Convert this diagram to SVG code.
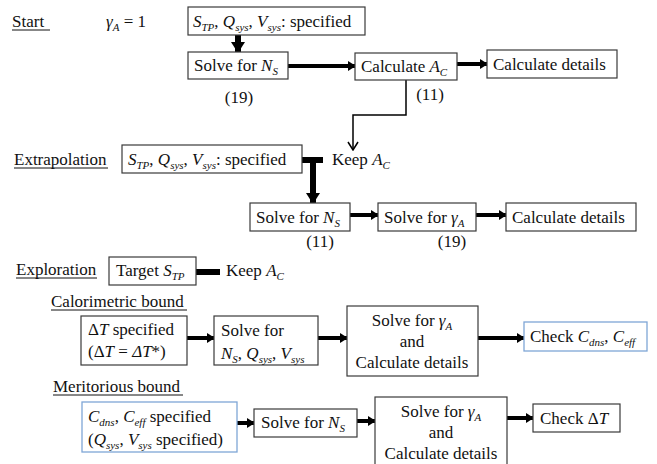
<svg xmlns="http://www.w3.org/2000/svg" width="657" height="464" viewBox="0 0 657 464" font-family="Liberation Serif, DejaVu Serif, serif" font-size="17">
<style>
text{font-family:'Liberation Serif','DejaVu Serif',serif;font-size:17px;fill:#111}
.i{font-style:italic}
.s{font-size:11px;font-style:italic}
.box{fill:#fff;stroke:#3a3a3a;stroke-width:1.2}
.blue{fill:#fff;stroke:#7fa6d6;stroke-width:1.3}
.thick{stroke:#000;stroke-width:4;fill:none}
.heavy{stroke:#000;stroke-width:6;fill:none}
.thin{stroke:#000;stroke-width:1.5;fill:none}
.ul{stroke:#111;stroke-width:1}
.c{text-anchor:middle}
</style>
<defs>
<marker id="ah" markerUnits="userSpaceOnUse" markerWidth="8" markerHeight="10" refX="7" refY="5" orient="auto"><path d="M0,0 L8,5 L0,10 z" fill="#000"/></marker>
<marker id="ahb" markerUnits="userSpaceOnUse" markerWidth="12" markerHeight="14" refX="10" refY="7" orient="auto"><path d="M0,0 L11,7 L0,14 z" fill="#000"/></marker>
<marker id="ao" markerUnits="userSpaceOnUse" markerWidth="10" markerHeight="12" refX="9" refY="6" orient="auto"><path d="M1,1 L9,6 L1,11" fill="none" stroke="#000" stroke-width="1.5"/></marker>
</defs>

<g id="labels">
<text x="12" y="27">Start</text><line class="ul" x1="12" y1="30" x2="50" y2="30"/>
<text x="106" y="27"><tspan class="i">γ</tspan><tspan class="s" dy="4">A</tspan><tspan dy="-4"> = 1</tspan></text>
<text x="14" y="165">Extrapolation</text><line class="ul" x1="14" y1="168" x2="108" y2="168"/>
<text x="16" y="275">Exploration</text><line class="ul" x1="16" y1="278" x2="97" y2="278"/>
<text x="51" y="307">Calorimetric bound</text><line class="ul" x1="51" y1="310" x2="187" y2="310"/>
<text x="53" y="392">Meritorious bound</text><line class="ul" x1="53" y1="395" x2="183" y2="395"/>
<text class="c" x="239" y="103">(19)</text>
<text class="c" x="430" y="100">(11)</text>
<text class="c" x="320" y="247">(11)</text>
<text class="c" x="452" y="247">(19)</text>
<text x="332" y="165">Keep <tspan class="i">A</tspan><tspan class="s" dy="4">C</tspan></text>
<text x="226" y="276">Keep <tspan class="i">A</tspan><tspan class="s" dy="4">C</tspan></text>
</g>

<g id="connectors">
<line class="heavy" x1="238" y1="35" x2="238" y2="52" marker-end="url(#ahb)"/>
<line class="thick" x1="288" y1="66" x2="355" y2="66" marker-end="url(#ah)"/>
<line class="thick" x1="457" y1="64" x2="487" y2="64" marker-end="url(#ah)"/>
<polyline class="thin" points="406,80 406,115 353,115 353,150" marker-end="url(#ao)"/>
<line class="heavy" x1="302" y1="160" x2="323" y2="160"/>
<line class="heavy" x1="313" y1="160" x2="313" y2="203" marker-end="url(#ahb)"/>
<line class="thick" x1="350" y1="215" x2="378" y2="215" marker-end="url(#ah)"/>
<line class="thick" x1="476" y1="215" x2="506" y2="215" marker-end="url(#ah)"/>
<line class="heavy" x1="196" y1="272" x2="220" y2="272"/>
<line class="thick" x1="187" y1="338" x2="214" y2="338" marker-end="url(#ah)"/>
<line class="thick" x1="318" y1="338" x2="347" y2="338" marker-end="url(#ah)"/>
<line class="thick" x1="478" y1="338" x2="524" y2="338" marker-end="url(#ah)"/>
<line class="thick" x1="237" y1="423" x2="254" y2="423" marker-end="url(#ah)"/>
<line class="thick" x1="357" y1="421" x2="375" y2="421" marker-end="url(#ah)"/>
<line class="thick" x1="507" y1="418" x2="533" y2="418" marker-end="url(#ah)"/>
</g>

<g id="start-spec"><rect class="box" x="188" y="7" width="177" height="28"/>
<text x="193" y="27"><tspan class="i">S</tspan><tspan class="s" dy="4">TP</tspan><tspan dy="-4">, </tspan><tspan class="i">Q</tspan><tspan class="s" dy="4">sys</tspan><tspan dy="-4">, </tspan><tspan class="i">V</tspan><tspan class="s" dy="4">sys</tspan><tspan dy="-4">: specified</tspan></text></g>

<g id="start-solve-ns"><rect class="box" x="188" y="52" width="100" height="27"/>
<text x="194" y="71">Solve for <tspan class="i">N</tspan><tspan class="s" dy="4">S</tspan></text></g>

<g id="start-calc-ac"><rect class="box" x="355" y="53" width="102" height="27"/>
<text x="361" y="72">Calculate <tspan class="i">A</tspan><tspan class="s" dy="4">C</tspan></text></g>

<g id="start-details"><rect class="box" x="487" y="50" width="130" height="28"/>
<text x="493" y="70">Calculate details</text></g>

<g id="extra-spec"><rect class="box" x="122" y="145" width="180" height="28"/>
<text x="128" y="165"><tspan class="i">S</tspan><tspan class="s" dy="4">TP</tspan><tspan dy="-4">, </tspan><tspan class="i">Q</tspan><tspan class="s" dy="4">sys</tspan><tspan dy="-4">, </tspan><tspan class="i">V</tspan><tspan class="s" dy="4">sys</tspan><tspan dy="-4">: specified</tspan></text></g>

<g id="extra-solve-ns"><rect class="box" x="250" y="203" width="100" height="28"/>
<text x="256" y="223">Solve for <tspan class="i">N</tspan><tspan class="s" dy="4">S</tspan></text></g>

<g id="extra-solve-gamma"><rect class="box" x="378" y="203" width="98" height="28"/>
<text x="384" y="223">Solve for <tspan class="i">γ</tspan><tspan class="s" dy="4">A</tspan></text></g>

<g id="extra-details"><rect class="box" x="506" y="203" width="130" height="28"/>
<text x="512" y="223">Calculate details</text></g>

<g id="explore-target"><rect class="box" x="109" y="257" width="87" height="28"/>
<text x="116" y="276">Target <tspan class="i">S</tspan><tspan class="s" dy="4">TP</tspan></text></g>

<g id="cal-spec"><rect class="box" x="81" y="316" width="106" height="49"/>
<text x="88" y="335">Δ<tspan class="i">T</tspan> specified</text>
<text x="88" y="357">(Δ<tspan class="i">T</tspan> = <tspan class="i">ΔT</tspan>*)</text></g>

<g id="cal-solve"><rect class="box" x="214" y="316" width="104" height="49"/>
<text x="221" y="336">Solve for</text>
<text x="221" y="359"><tspan class="i">N</tspan><tspan class="s" dy="4">S</tspan><tspan dy="-4">, </tspan><tspan class="i">Q</tspan><tspan class="s" dy="4">sys</tspan><tspan dy="-4">, </tspan><tspan class="i">V</tspan><tspan class="s" dy="4">sys</tspan></text></g>

<g id="cal-gamma"><rect class="box" x="347" y="306" width="131" height="70"/>
<text class="c" x="412" y="326">Solve for <tspan class="i">γ</tspan><tspan class="s" dy="4">A</tspan></text>
<text class="c" x="412" y="347">and</text>
<text class="c" x="412" y="368">Calculate details</text></g>

<g id="cal-check"><rect class="blue" x="524" y="322" width="123" height="29"/>
<text x="530" y="342">Check <tspan class="i">C</tspan><tspan class="s" dy="4">dns</tspan><tspan dy="-4">, </tspan><tspan class="i">C</tspan><tspan class="s" dy="4">eff</tspan></text></g>

<g id="mer-spec"><rect class="blue" x="82" y="402" width="155" height="50"/>
<text x="88" y="422"><tspan class="i">C</tspan><tspan class="s" dy="4">dns</tspan><tspan dy="-4">, </tspan><tspan class="i">C</tspan><tspan class="s" dy="4">eff</tspan><tspan dy="-4"> specified</tspan></text>
<text x="88" y="445">(<tspan class="i">Q</tspan><tspan class="s" dy="4">sys</tspan><tspan dy="-4">, </tspan><tspan class="i">V</tspan><tspan class="s" dy="4">sys</tspan><tspan dy="-4"> specified)</tspan></text></g>

<g id="mer-solve-ns"><rect class="box" x="254" y="409" width="103" height="28"/>
<text x="261" y="428">Solve for <tspan class="i">N</tspan><tspan class="s" dy="4">S</tspan></text></g>

<g id="mer-gamma"><rect class="box" x="375" y="397" width="132" height="75"/>
<text class="c" x="441" y="417">Solve for <tspan class="i">γ</tspan><tspan class="s" dy="4">A</tspan></text>
<text class="c" x="441" y="438">and</text>
<text class="c" x="441" y="459">Calculate details</text></g>

<g id="mer-check"><rect class="box" x="533" y="404" width="87" height="28"/>
<text x="540" y="424">Check Δ<tspan class="i">T</tspan></text></g>
</svg>
